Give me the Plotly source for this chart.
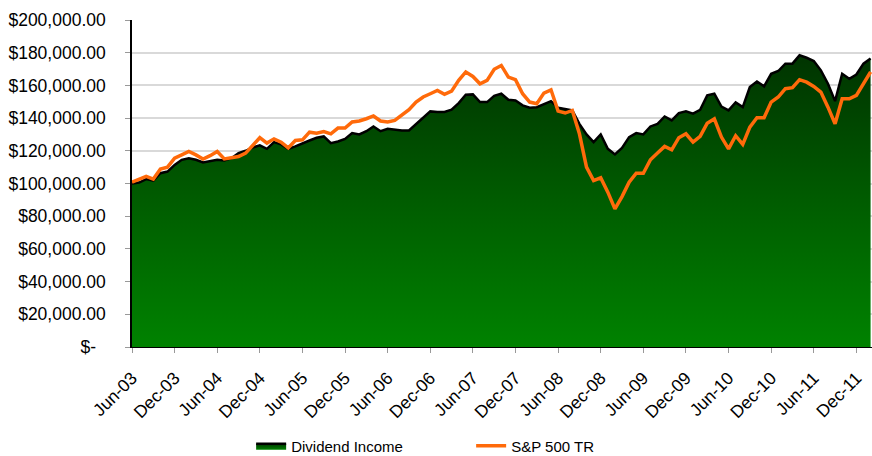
import plotly.graph_objects as go

# Monthly data, Jun-03 .. Feb-12
dividend_income = [
    100.0, 100.6, 102.7, 101.8, 106.3, 107.3, 111.4, 114.5, 115.5, 114.5,
    112.9, 113.9, 114.5, 114.1, 115.5, 118.6, 120.0, 122.0, 123.3, 121.2,
    125.3, 123.9, 121.2, 122.7, 124.3, 126.3, 128.0, 128.8, 124.7, 125.7,
    127.3, 130.8, 130.0, 132.0, 134.9, 132.0, 133.5, 132.9, 132.4, 132.4,
    136.1, 140.2, 144.1, 143.7, 143.7, 145.1, 149.2, 154.3, 154.5, 149.8,
    149.8, 153.6, 154.9, 151.2, 150.8, 147.8, 146.3, 146.7, 148.4, 150.4,
    146.3, 145.3, 144.7, 136.5, 130.0, 125.3, 130.0, 121.2, 117.8, 121.8,
    128.4, 130.8, 130.0, 134.9, 136.5, 141.0, 138.6, 143.1, 144.1, 142.7,
    145.1, 153.9, 154.9, 147.1, 144.7, 149.6, 146.7, 159.0, 162.4, 159.4,
    167.1, 168.8, 173.3, 173.3, 178.4, 176.9, 174.9, 169.2, 161.0, 150.4,
    167.1, 164.1, 166.7, 173.3, 176.5,
]
sp500_tr = [
    100.8, 102.5, 104.3, 102.7, 108.8, 110.0, 115.5, 117.5, 119.6, 117.5,
    115.0, 117.0, 119.6, 115.0, 115.5, 116.5, 118.6, 123.0, 128.0, 124.7,
    127.3, 125.3, 121.8, 126.3, 126.7, 131.4, 130.8, 131.8, 130.4, 133.9,
    133.9, 137.6, 138.2, 139.6, 141.3, 138.2, 137.6, 138.6, 141.6, 145.1,
    149.8, 152.9, 154.9, 156.9, 154.5, 156.5, 163.1, 168.2, 165.5, 161.0,
    163.1, 169.9, 172.2, 165.1, 163.5, 154.9, 149.8, 148.8, 155.3, 157.3,
    144.3, 143.1, 144.7, 130.4, 110.0, 101.8, 103.5, 94.7, 84.5, 92.0,
    100.8, 106.3, 106.3, 114.5, 118.6, 122.7, 120.6, 128.0, 130.4, 125.3,
    128.8, 136.9, 139.6, 128.4, 121.2, 129.2, 123.9, 134.5, 140.2, 140.2,
    149.8, 152.9, 158.0, 158.6, 163.5, 162.0, 159.4, 155.9, 146.7, 136.5,
    151.8, 151.8, 153.9, 161.0, 168.2,
]
month_index = list(range(len(dividend_income)))

tick_months = [0, 6, 12, 18, 24, 30, 36, 42, 48, 54, 60, 66, 72, 78, 84, 90, 96, 102]
tick_labels = ["Jun-03", "Dec-03", "Jun-04", "Dec-04", "Jun-05", "Dec-05", "Jun-06",
               "Dec-06", "Jun-07", "Dec-07", "Jun-08", "Dec-08", "Jun-09", "Dec-09",
               "Jun-10", "Dec-10", "Jun-11", "Dec-11"]

y_tick_vals = [0, 20000, 40000, 60000, 80000, 100000, 120000, 140000, 160000, 180000, 200000]
y_tick_text = ["$-\u00a0\u00a0", "$20,000.00", "$40,000.00", "$60,000.00", "$80,000.00",
               "$100,000.00", "$120,000.00", "$140,000.00", "$160,000.00",
               "$180,000.00", "$200,000.00"]

div_vals = [v * 1000 for v in dividend_income]
sp_vals = [v * 1000 for v in sp500_tr]

FONT = "Liberation Sans, Arial, sans-serif"

fig = go.Figure()
fig.add_trace(go.Scatter(
    x=month_index, y=div_vals, name="Dividend Income",
    mode="lines", fill="tozeroy",
    line=dict(color="black", width=2.5),
    fillgradient=dict(type="vertical", start=0, stop=180000,
                      colorscale=[[0, "#008200"], [0.5, "#005c00"], [1, "#003300"]]),
))
fig.add_trace(go.Scatter(
    x=month_index, y=sp_vals, name="S&P 500 TR",
    mode="lines", line=dict(color="#FF6A0A", width=3.5),
))

fig.update_layout(
    width=872, height=456,
    margin=dict(l=132, r=0, t=20, b=109),
    paper_bgcolor="white", plot_bgcolor="white",
    font=dict(family=FONT, size=17, color="black"),
    showlegend=True,
    legend=dict(orientation="h", x=0.161, xanchor="left",
                yref="container", y=0.022, yanchor="middle",
                font=dict(size=15, family=FONT), entrywidth=175, entrywidthmode="pixels",
                bgcolor="rgba(0,0,0,0)", tracegroupgap=0),
    xaxis=dict(range=[0, 104.2], tickvals=tick_months, ticktext=tick_labels,
               tickangle=-45, showgrid=False, zeroline=False, automargin=False,
               showline=True, linecolor="black", linewidth=1,
               ticks="outside", ticklen=5, tickcolor="#999999",
               ticklabelstandoff=8,
               tickfont=dict(size=17.5, family=FONT)),
    yaxis=dict(range=[0, 200000], tickvals=y_tick_vals, ticktext=y_tick_text,
               showgrid=True, gridcolor="#d9d9d9", gridwidth=1.5, zeroline=False,
               automargin=False,
               showline=True, linecolor="black", linewidth=1.5,
               ticks="outside", ticklen=5, tickcolor="#999999",
               ticklabelstandoff=16,
               tickfont=dict(size=17.5, family=FONT)),
)

fig.write_html(
    "out.html",
    config={"displayModeBar": False},
    post_script="document.body.style.margin='0';document.body.style.overflow='hidden';",
)
